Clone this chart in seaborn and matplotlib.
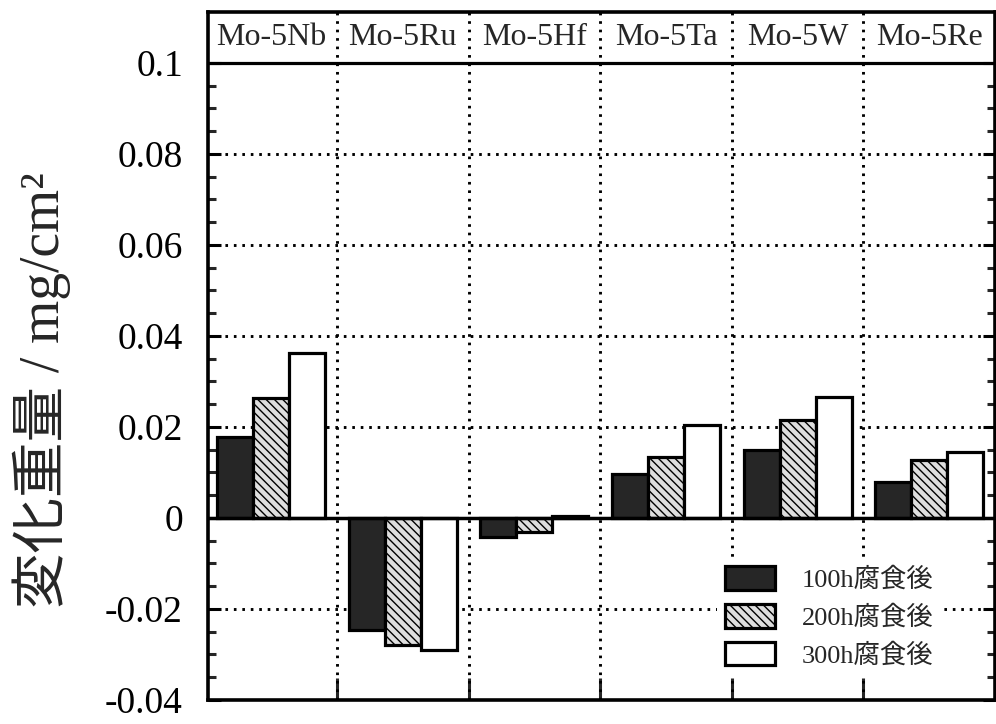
import matplotlib
matplotlib.use("Agg")
import matplotlib.pyplot as plt
from matplotlib.patches import Patch
from matplotlib.ticker import FixedLocator
import seaborn as sns
import pandas as pd

alloys = ["Mo-5Nb", "Mo-5Ru", "Mo-5Hf", "Mo-5Ta", "Mo-5W", "Mo-5Re"]
series = ["100h腐食後", "200h腐食後", "300h腐食後"]
v100 = [0.0178, -0.0246, -0.0042, 0.0097, 0.0149, 0.0079]
v200 = [0.0264, -0.0279, -0.0031, 0.0134, 0.0215, 0.0127]
v300 = [0.0363, -0.0290, 0.0004, 0.0204, 0.0266, 0.0145]
yticks = [-0.04, -0.02, 0.0, 0.02, 0.04, 0.06, 0.08, 0.1]
yticklabels = ["-0.04", "-0.02", "0", "0.02", "0.04", "0.06", "0.08", "0.1"]
ylabel = "変化重量 / mg/cm²"

rows = []
for s, vals in zip(series, [v100, v200, v300]):
    for a, v in zip(alloys, vals):
        rows.append({"alloy": a, "time": s, "value": v})
df = pd.DataFrame(rows)

sns.set_theme(style="white")
plt.rcParams["font.family"] = ["Liberation Serif", "Noto Sans CJK JP"]
plt.rcParams["hatch.linewidth"] = 1.0

fig = plt.figure(figsize=(9.96, 7.24), dpi=100)
ax = fig.add_axes([208 / 996, 24 / 724, (995 - 208) / 996, 688 / 724])

faces = ["#262626", "#dedede", "#ffffff"]
hatches = ["", "\\\\\\\\", ""]
sns.barplot(data=df, x="alloy", y="value", hue="time", hue_order=series,
            order=alloys, palette=faces, edgecolor="black", linewidth=2.3,
            width=0.82, saturation=1, ax=ax, legend=False, zorder=3)
for cont, h in zip(ax.containers, hatches):
    for bar in cont:
        bar.set_hatch(h)

ax.set_xlim(-0.48, 5.5)
ax.set_ylim(-0.04, 0.1112)

# grid
dot = (0, (0.9, 2.0))
for y in [-0.02, 0.02, 0.04, 0.06, 0.08]:
    ax.axhline(y, color="black", lw=2.1, ls=dot, zorder=1)
for x in [0.5, 1.5, 2.5, 3.5, 4.5]:
    ax.axvline(x, color="black", lw=2.1, ls=dot, zorder=1)
ax.axhline(0, color="black", lw=2.5, zorder=4)
ax.axhline(0.1, color="black", lw=2.3, zorder=4)

# header labels
for i, a in enumerate(alloys):
    ax.text(i, 0.1057, a, ha="center", va="center", fontsize=23,
            family=["Liberation Serif"], zorder=5)

ax.yaxis.set_major_locator(FixedLocator(yticks))
ax.set_yticklabels(yticklabels, fontsize=27)
ax.yaxis.set_minor_locator(FixedLocator([v / 1000 for v in range(-40, 100, 5)]))
ax.xaxis.set_major_locator(FixedLocator([0.5, 1.5, 2.5, 3.5, 4.5]))
ax.set_xticklabels([])
ax.tick_params(axis="y", which="major", direction="in", length=9, width=2.2,
               left=True, right=True, pad=18, colors="black")
ax.tick_params(axis="y", which="minor", direction="in", length=6, width=2.2,
               left=True, right=True)
ax.tick_params(axis="x", which="major", direction="in", length=16, width=2.2,
               bottom=True, top=False)
ax.set_xlabel("")
ax.set_ylabel("")
for sp in ax.spines.values():
    sp.set_color("black")
    sp.set_linewidth(2.6)
    sp.set_visible(True)

fig.text(42 / 996, 1 - 390 / 724, ylabel, rotation=90, ha="center", va="center",
         fontsize=40, family=["Liberation Serif", "Noto Sans CJK JP"])

handles = [Patch(facecolor=f, edgecolor="black", hatch=h, linewidth=2.3)
           for f, h in zip(faces, hatches)]
leg = ax.legend(handles, series, loc="upper left", bbox_to_anchor=(0.63, 0.225),
                frameon=True, fontsize=19, handlelength=1.9, handleheight=1.0,
                handletextpad=1.0, labelspacing=0.45, borderpad=0.3)
leg.get_frame().set_edgecolor("none")
leg.get_frame().set_facecolor("white")
leg.get_frame().set_alpha(1)
leg.set_zorder(6)
for t in leg.get_texts():
    t.set_family(["Liberation Serif", "Noto Sans CJK JP"])

fig.savefig("out.png", dpi=100, facecolor="white")
